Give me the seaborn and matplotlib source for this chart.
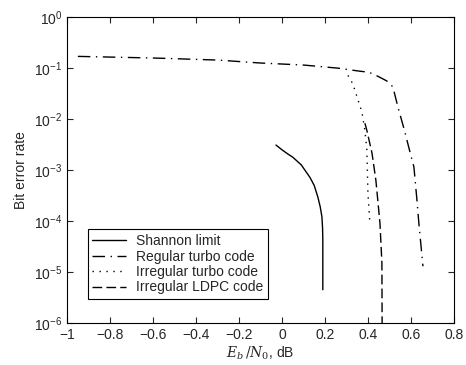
import numpy as np
import pandas as pd
import seaborn as sns
import matplotlib
matplotlib.use("Agg")
import matplotlib.pyplot as plt
from matplotlib.ticker import NullLocator

# Eb/N0 (dB) and bit error rate
shannon_x = [-0.028, 0.0, 0.025, 0.051, 0.09, 0.13, 0.15, 0.167, 0.178, 0.186, 0.189, 0.19, 0.19]
shannon_y = [3.1e-3, 2.5e-3, 2.1e-3, 1.78e-3, 1.26e-3, 7.2e-4, 5.0e-4, 2.95e-4,
             1.9e-4, 1.2e-4, 7.1e-5, 4.3e-5, 4.5e-6]

reg_turbo_x = [-0.95, -0.6, -0.3, -0.1, 0.1, 0.26, 0.363, 0.405, 0.447, 0.488,
               0.516, 0.54, 0.572, 0.59, 0.614, 0.628, 0.637, 0.656]
reg_turbo_y = [0.17, 0.158, 0.144, 0.126, 0.115, 0.1, 0.087, 0.083, 0.069, 0.056,
               0.043, 0.017, 5.6e-3, 2.8e-3, 1.15e-3, 2.6e-4, 9.1e-5, 1.3e-5]

irr_turbo_x = [0.307, 0.33, 0.344, 0.358, 0.372, 0.386, 0.395, 0.397, 0.40, 0.409]
irr_turbo_y = [0.072, 0.049, 0.032, 0.021, 0.0138, 6.0e-3, 2.5e-3, 1.15e-3, 3.5e-4, 9.1e-5]

ldpc_x = [0.386, 0.395, 0.419, 0.437, 0.456, 0.465, 0.466]
ldpc_y = [8.3e-3, 6.0e-3, 2.14e-3, 6.3e-4, 9.1e-5, 1.5e-5, 1e-6]

labels = ["Shannon limit", "Regular turbo code", "Irregular turbo code", "Irregular LDPC code"]
styles = ["-", (0, (9, 4, 1, 4)), (0, (1, 4)), (0, (7, 3))]

xticks = [-1, -0.8, -0.6, -0.4, -0.2, 0, 0.2, 0.4, 0.6, 0.8]
xtick_labels = ["\u22121", "\u22120.8", "\u22120.6", "\u22120.4", "\u22120.2", "0", "0.2", "0.4", "0.6", "0.8"]

sns.set_style("ticks")
plt.rcParams["font.family"] = ["Liberation Sans", "DejaVu Sans"]
plt.rcParams["mathtext.fontset"] = "dejavuserif"

fig = plt.figure(figsize=(4.66, 3.65), dpi=100)
ax = fig.add_axes([0.144, 0.115, 0.830, 0.838])

series = [(shannon_x, shannon_y), (reg_turbo_x, reg_turbo_y),
          (irr_turbo_x, irr_turbo_y), (ldpc_x, ldpc_y)]
for (xs, ys), lab, ls in zip(series, labels, styles):
    df = pd.DataFrame({"x": xs, "y": ys})
    sns.lineplot(data=df, x="x", y="y", ax=ax, color="black", linewidth=1.0,
                 linestyle=ls, label=lab, sort=False, estimator=None)

ax.set_yscale("log")
ax.set_ylim(1e-6, 1)
ax.set_xlim(-1, 0.8)
ax.yaxis.set_minor_locator(NullLocator())
ax.set_xticks(xticks)
ax.set_xticklabels(xtick_labels)
ax.tick_params(direction="in", top=True, right=True, labelsize=10, length=4, width=0.8)
for s in ax.spines.values():
    s.set_color("black")
    s.set_linewidth(0.8)

ax.set_xlabel("$E_b\\,/N_0$, dB", fontsize=10, labelpad=2)
ax.set_ylabel("Bit error rate", fontsize=10)

leg = ax.legend(loc="lower left", bbox_to_anchor=(0.035, 0.055), fontsize=10,
                handlelength=2.4, borderpad=0.35, labelspacing=0.1, handletextpad=0.7,
                fancybox=False, framealpha=1)
leg.get_frame().set_edgecolor("black")
leg.get_frame().set_linewidth(0.8)

fig.savefig("out.png", dpi=100)
